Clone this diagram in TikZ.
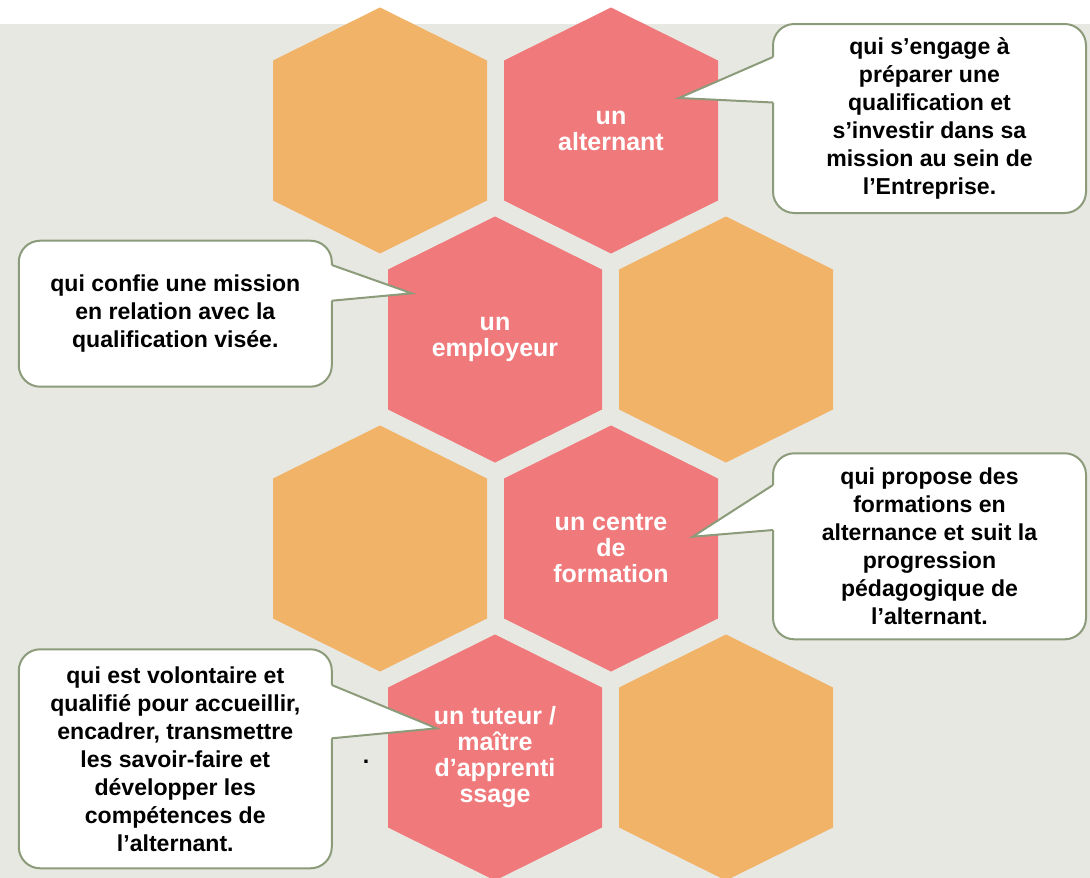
\documentclass[tikz,border=0pt]{standalone}
\usepackage{fontspec}
\setmainfont{Liberation Sans}

\definecolor{hexorange}{RGB}{240,179,104}
\definecolor{hexpink}{RGB}{240,121,123}
\definecolor{bggray}{RGB}{232,232,227}
\definecolor{calloutline}{RGB}{140,155,122}

\tikzset{every picture/.style={line width=0.75pt}}
\tikzset{
  hexlabel/.style={text=white, font=\fontsize{18.75}{19.5}\selectfont\bfseries, align=center, inner sep=0pt},
  calloutbox/.style={draw=calloutline, line width=1.5pt, fill=white, rounded corners=16pt, minimum width=234.75pt, outer sep=0pt, inner sep=0pt},
  callouttext/.style={font=\fontsize{17.3}{21}\selectfont\bfseries, align=center},
  pointer/.style={draw=calloutline, line width=1.5pt, line join=miter},
}

\begin{document}
\begin{tikzpicture}[x=0.75pt,y=0.75pt,yscale=-1]
\useasboundingbox (0,0) rectangle (1090,878);

%Shape: Background
\fill[white] (0,0) rectangle (1090,878);
\fill[bggray] (0,24) rectangle (1090,878);

%Shape: Hexagon [row 1, left]
\fill[hexorange] (380,7.5) -- ++(107,53) -- ++(0,140) -- ++(-107,53) -- ++(-107,-53) -- ++(0,-140) -- cycle;
%Shape: Hexagon [row 1, right]
\fill[hexpink] (611,7.5) -- ++(107,53) -- ++(0,140) -- ++(-107,53) -- ++(-107,-53) -- ++(0,-140) -- cycle;
%Shape: Hexagon [row 2, left]
\fill[hexpink] (495,216.5) -- ++(107,53) -- ++(0,140) -- ++(-107,53) -- ++(-107,-53) -- ++(0,-140) -- cycle;
%Shape: Hexagon [row 2, right]
\fill[hexorange] (726,216.5) -- ++(107,53) -- ++(0,140) -- ++(-107,53) -- ++(-107,-53) -- ++(0,-140) -- cycle;
%Shape: Hexagon [row 3, left]
\fill[hexorange] (380,425.5) -- ++(107,53) -- ++(0,140) -- ++(-107,53) -- ++(-107,-53) -- ++(0,-140) -- cycle;
%Shape: Hexagon [row 3, right]
\fill[hexpink] (611,425.5) -- ++(107,53) -- ++(0,140) -- ++(-107,53) -- ++(-107,-53) -- ++(0,-140) -- cycle;
%Shape: Hexagon [row 4, left]
\fill[hexpink] (495,634.5) -- ++(107,53) -- ++(0,140) -- ++(-107,53) -- ++(-107,-53) -- ++(0,-140) -- cycle;
%Shape: Hexagon [row 4, right]
\fill[hexorange] (726,634.5) -- ++(107,53) -- ++(0,140) -- ++(-107,53) -- ++(-107,-53) -- ++(0,-140) -- cycle;

% Callout: alternant
\node[calloutbox, callouttext, minimum height=141.75pt] (qAlternant) at (929.5,118.5) {qui s’engage à\\préparer une\\qualification et\\s’investir dans sa\\mission au sein de\\l’Entreprise.};
\coordinate (aTop) at (773,57);
\coordinate (aBot) at (773,102.5);
\coordinate (tipAlternant) at (679,98);
\fill[white] (aTop) -- (tipAlternant) -- (aBot) -- ([xshift=2pt]aBot) -- ([xshift=2pt]aTop) -- cycle;
\draw[pointer] (aTop) -- (tipAlternant) -- (aBot);

% Callout: employeur
\node[calloutbox, callouttext, minimum height=109.5pt] (qEmployeur) at (175.3,313.7) {qui confie une mission\\en relation avec la\\qualification visée.};
\coordinate (eTop) at (331.8,265);
\coordinate (eBot) at (331.8,300.7);
\coordinate (tipEmployeur) at (411.7,293.3);
\fill[white] (eTop) -- (tipEmployeur) -- (eBot) -- ([xshift=-2pt]eBot) -- ([xshift=-2pt]eTop) -- cycle;
\draw[pointer] (eTop) -- (tipEmployeur) -- (eBot);

% Callout: centre de formation
\node[calloutbox, callouttext, minimum height=139.5pt] (qCentre) at (929.5,546.3) {qui propose des\\formations en\\alternance et suit la\\progression\\pédagogique de\\l’alternant.};
\coordinate (cTop) at (773,485);
\coordinate (cBot) at (773,530);
\coordinate (tipCentre) at (692.7,536.7);
\fill[white] (cTop) -- (tipCentre) -- (cBot) -- ([xshift=2pt]cBot) -- ([xshift=2pt]cTop) -- cycle;
\draw[pointer] (cTop) -- (tipCentre) -- (cBot);

% Callout: tuteur
\node[calloutbox, callouttext, minimum height=164.25pt] (qTuteur) at (175.3,758.8) {qui est volontaire et\\qualifié pour accueillir,\\encadrer, transmettre\\les savoir-faire et\\développer les\\compétences de\\l’alternant.};
\coordinate (tTop) at (331.8,685);
\coordinate (tBot) at (331.8,738.3);
\coordinate (tipTuteur) at (436.7,728.3);
\fill[white] (tTop) -- (tipTuteur) -- (tBot) -- ([xshift=-2pt]tBot) -- ([xshift=-2pt]tTop) -- cycle;
\draw[pointer] (tTop) -- (tipTuteur) -- (tBot);

% Text Node
\node[hexlabel] (alternant) at (611,130.5) {un\\alternant};
% Text Node
\node[hexlabel] (employeur) at (495,339.5) {un\\employeur};
% Text Node
\node[hexlabel] (centre) at (611,548.5) {un centre\\de\\formation};
% Text Node
\node[hexlabel] (tuteur) at (495,757.5) {un tuteur /\\maître\\d’apprenti\\ssage};
% Text Node
\node[callouttext, inner sep=0pt] (dot) at (366,762) {.};
\end{tikzpicture}
\end{document}
